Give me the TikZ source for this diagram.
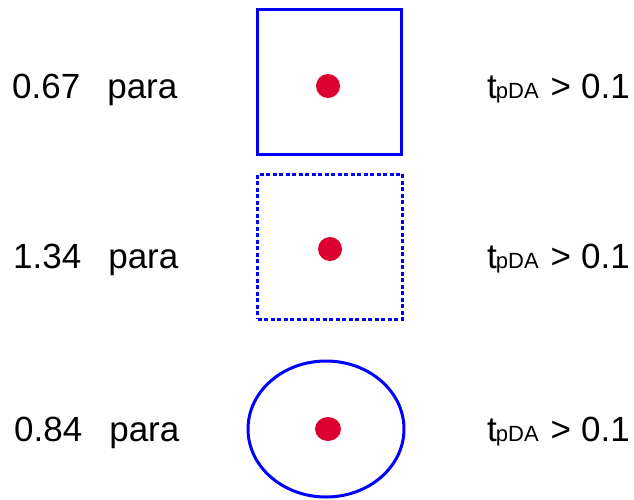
\documentclass[tikz,border=0pt]{standalone}
\usepackage{fontspec}
\setmainfont{Liberation Sans}
\usetikzlibrary{shapes.geometric}
\definecolor{dotred}{RGB}{220,0,48}
\definecolor{lineblue}{RGB}{0,0,255}
\tikzset{
  lbl/.style={anchor=base west, inner sep=0pt, font=\fontsize{35}{40}\selectfont},
  boxshape/.style={draw=lineblue, line width=3pt, inner sep=0pt},
  dot/.style={circle, fill=dotred, inner sep=0pt, minimum size=24pt},
}
\newcommand{\tpda}{t\kern-1pt{\fontsize{22}{22}\selectfont pDA}\hspace{12pt}>\hspace{10pt}0.1}
\newcommand{\para}[1]{#1\hspace{27pt}para}
\begin{document}
\begin{tikzpicture}[x=1pt,y=-1pt]
\useasboundingbox (0,0) rectangle (634,499);
% row 1
\node[lbl] (l1) at (12,98) {\para{0.67}};
\node[boxshape, minimum width=144pt, minimum height=145pt] (b1) at (329,81.5) {};
\node[dot] (d1) at (328,86) {};
\node[lbl] (r1) at (487,98) {\tpda};
% row 2
\node[lbl] (l2) at (13,268) {\para{1.34}};
\node[boxshape, dash pattern=on 4pt off 2.5pt, minimum width=145pt, minimum height=145pt] (b2) at (330,246.5) {};
\node[dot] (d2) at (330,249) {};
\node[lbl] (r2) at (487,268) {\tpda};
% row 3
\node[lbl] (l3) at (14,441) {\para{0.84}};
\node[boxshape, ellipse, minimum width=156pt, minimum height=136pt] (e3) at (326,429) {};
\node[dot, ellipse, minimum width=26pt, minimum height=24pt] (d3) at (328,429) {};
\node[lbl] (r3) at (487,441) {\tpda};
\end{tikzpicture}
\end{document}
